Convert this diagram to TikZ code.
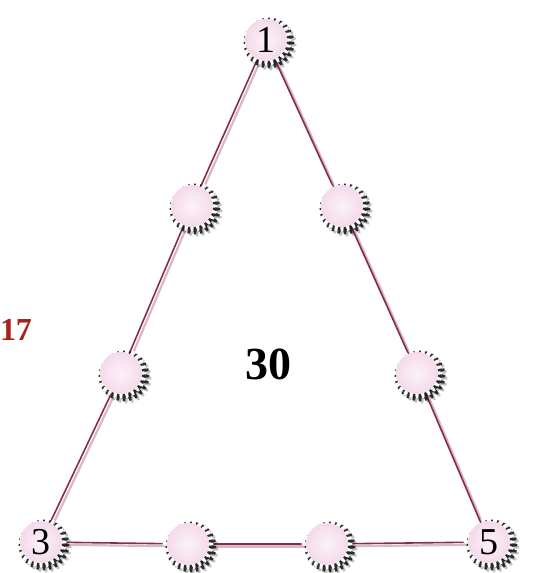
\documentclass[tikz,border=0pt]{standalone}
\usepackage{fontspec}
\setmainfont{Liberation Serif}
\usetikzlibrary{shadings}
\pgfdeclarelayer{bg}
\pgfdeclarelayer{mid}
\pgfsetlayers{bg,mid,main}
\definecolor{edgecol}{RGB}{135,45,70}
\definecolor{edgeshade}{RGB}{215,185,195}
\definecolor{gearpink}{RGB}{244,218,234}
\definecolor{gearcenter}{RGB}{252,242,249}
\definecolor{seventeen}{RGB}{165,35,25}
\tikzset{
  gearnode/.style={circle, minimum size=50pt, inner sep=0pt, font=\fontsize{38}{38}\selectfont},
  edge/.style={draw=edgecol, line width=1.6pt},
  edgeshadow/.style={draw=edgeshade, line width=2.2pt},
}
\newcommand{\gearpath}[1]{plot[domain=0:360, samples=289, smooth cycle] (\x:{23+2.4*min(1,max(-1,2.2*cos(24*\x)))})}
\begin{document}
\begin{tikzpicture}[x=1pt,y=-1pt]
\useasboundingbox (0,0) rectangle (534,573);
\node[gearnode] (n1) at (266,40) {1};
\node[gearnode] (lu) at (192,206) {};
\node[gearnode] (ru) at (342,206) {};
\node[gearnode] (ll) at (121,373) {};
\node[gearnode] (rl) at (417,373) {};
\node[gearnode] (n3) at (41,542) {3};
\node[gearnode] (bl) at (188,544) {};
\node[gearnode] (br) at (327,544) {};
\node[gearnode] (n5) at (489,542) {5};
\node[font=\bfseries\fontsize{32}{32}\selectfont, text=seventeen] (t17) at (16,330) {17};
\node[font=\bfseries\fontsize{46}{46}\selectfont] (t30) at (268,364) {30};
\begin{pgfonlayer}{bg}
  \fill[white] (0,0) rectangle (534,573);
  \foreach \a/\b in {n1/lu,lu/ll,ll/n3,n1/ru,ru/rl,rl/n5,n3/bl,bl/br,br/n5}{
    \draw[edgeshadow] ([shift={(2.5,2.5)}]\a.center) -- ([shift={(2.5,2.5)}]\b.center);
    \draw[edge] (\a.center) -- (\b.center);
  }
\end{pgfonlayer}
\begin{pgfonlayer}{mid}
  \foreach \g in {n1,lu,ru,ll,rl,n3,bl,br,n5}{
    \begin{scope}[shift={(\g.center)}]
      \fill[black, opacity=0.25, shift={(5,5)}] \gearpath{};
      \fill[black!90, opacity=0.9, shift={(3,3)}] \gearpath{};
      \fill[white] \gearpath{};
      \shade[inner color=gearcenter, outer color=gearpink] (0,0) circle (21);
    \end{scope}
  }
\end{pgfonlayer}
\end{tikzpicture}
\end{document}
